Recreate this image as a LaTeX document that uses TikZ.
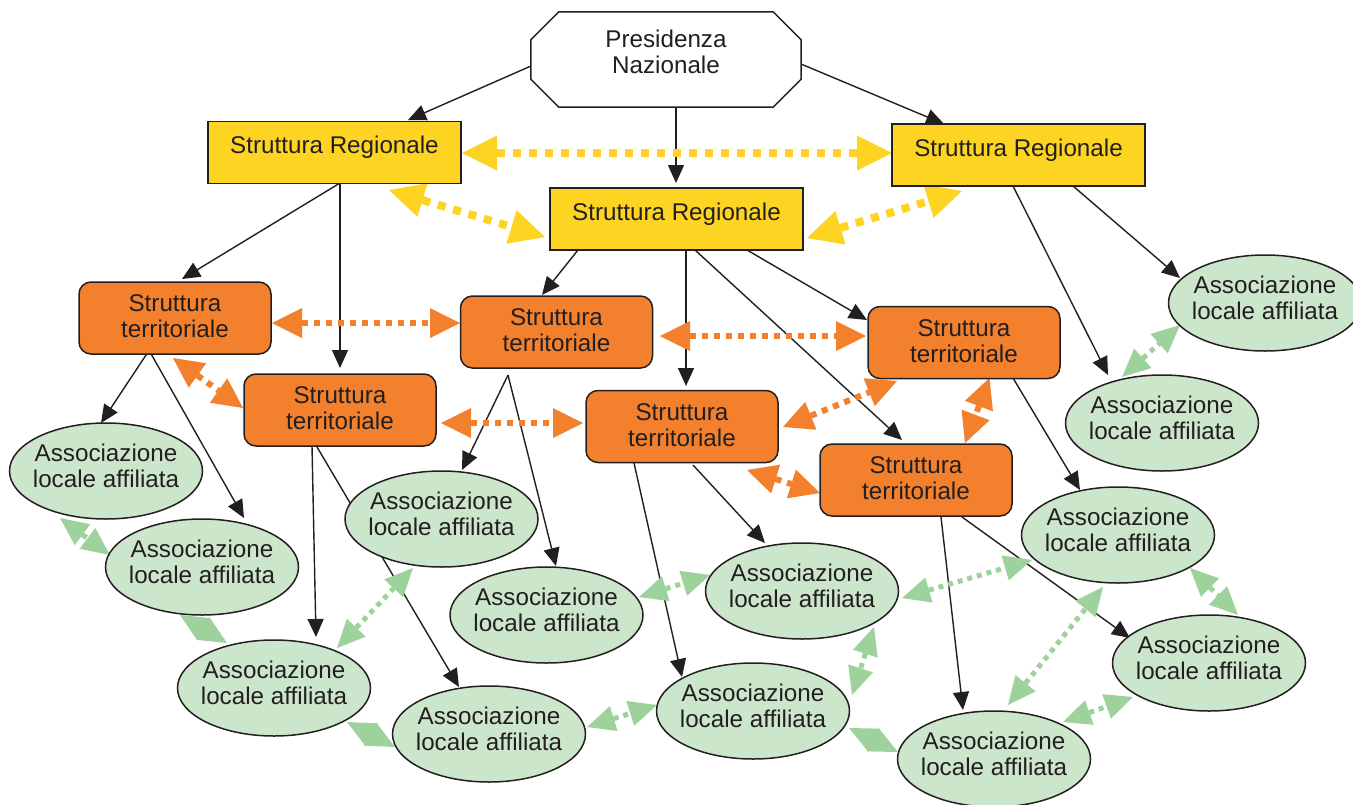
\documentclass[tikz,border=0pt]{standalone}
\usepackage{fontspec}
\setmainfont{Liberation Sans}
\usetikzlibrary{arrows.meta,shapes.geometric,calc}
\definecolor{ink}{HTML}{231F20}
\definecolor{regY}{HTML}{FDD422}
\definecolor{terO}{HTML}{F3802C}
\definecolor{assG}{HTML}{CCE6CB}
\definecolor{arrG}{HTML}{9DD29C}
\pgfdeclarelayer{bg}
\pgfsetlayers{bg,main}
\newcommand\AssocAt[3]{\node[assoc, label={[name=#1t,yshift=5pt]center:Associazione\\locale affiliata}] (#1) at (#2,#3) {};}
\newcommand\TerrAt[3]{\node[terbox, label={[name=#1t,yshift=1.5pt]center:Struttura\\territoriale}] (#1) at (#2,#3) {};}
\newcommand\RegAt[3]{\node[regbox, label={[name=#1t,yshift=5pt]center:Struttura Regionale}] (#1) at (#2,#3) {};}
\begin{document}
\begin{tikzpicture}[x=1pt,y=-1pt,
  every node/.style={font=\fontsize{24.2}{26}\selectfont, text=ink, align=center, inner sep=0pt},
  regbox/.style={rectangle, draw=ink, line width=1.5pt, fill=regY, minimum width=253pt, minimum height=62pt},
  terbox/.style={rectangle, rounded corners=12pt, draw=ink, line width=1.5pt, fill=terO, minimum width=192pt, minimum height=72pt},
  assoc/.style={ellipse, draw=ink, line width=1.5pt, fill=assG, minimum width=193pt, minimum height=96pt},
  blk/.style={draw=ink, line width=1.4pt, -{Triangle[length=18pt,width=16pt]}},
  yel/.style={draw=regY, line width=8pt, dash pattern=on 8pt off 8pt, {Triangle[length=35pt,width=35pt,line width=0pt]}-{Triangle[length=35pt,width=35pt,line width=0pt]}},
  ora/.style={draw=terO, line width=6pt, dash pattern=on 6pt off 6pt, {Triangle[length=30pt,width=30pt,line width=0pt]}-{Triangle[length=30pt,width=30pt,line width=0pt]}},
  grn/.style={draw=arrG, line width=5pt, dash pattern=on 5pt off 5pt, {Triangle[length=28pt,width=26pt,line width=0pt]}-{Triangle[length=28pt,width=26pt,line width=0pt]}}
]
\useasboundingbox (0,0) rectangle (1353,804);

% top
\node[minimum width=270pt, minimum height=95pt] (O) at (666,59.5) {};
\draw[ink, line width=1.5pt, fill=white]
  ($(O.north west)+(28,0)$) -- ($(O.north east)+(-28,0)$) -- ($(O.north east)+(0,28)$)
  -- ($(O.south east)+(0,-28)$) -- ($(O.south east)+(-28,0)$) -- ($(O.south west)+(28,0)$)
  -- ($(O.south west)+(0,-28)$) -- ($(O.north west)+(0,28)$) -- cycle;
\node (Ot) at ($(O)+(0,-8)$) {Presidenza\\Nazionale};

\RegAt{SL}{334.5}{152.5}
\RegAt{SR}{1018.5}{155}
\RegAt{SC}{676.5}{219}

\TerrAt{T1}{175}{318}
\TerrAt{T2}{556.5}{332}
\TerrAt{T3}{964}{342.5}
\TerrAt{T4}{340}{410}
\TerrAt{T5}{682}{426.5}
\TerrAt{T6}{916}{480}

\AssocAt{E1}{106}{471}
\AssocAt{E2}{202}{567}
\AssocAt{E3}{441.5}{519}
\AssocAt{E4}{546.5}{615}
\AssocAt{E5}{802}{591}
\AssocAt{E6}{274}{688}
\AssocAt{E7}{489}{734}
\AssocAt{E8}{753}{711}
\AssocAt{E9}{994}{759}
\AssocAt{E10}{1209}{663}
\AssocAt{E11}{1118}{535}
\AssocAt{E12}{1162}{423}
\AssocAt{E13}{1265}{303}

\begin{pgfonlayer}{bg}
\fill[white] (0,0) rectangle (1353,804);
% black arrows
\draw[blk] ($(O)+(-135,6.5)$) -- ($(SL)+(73.5,-32.5)$);
\draw[blk] ($(O)+(135,4.5)$) -- ($(SR)+(-74.5,-31)$);
\draw[blk] ($(O)+(10,47.5)$) -- ($(SC)+(-0.5,-36)$);
\draw[blk] ($(SL)+(5.5,30.5)$) -- ($(T1)+(7,-39)$);
\draw[blk] ($(SL)+(5.5,30.5)$) -- ($(T4)+(0,-42)$);
\draw[blk] ($(SC)+(-98.5,31)$) -- ($(T2)+(-14.5,-37)$);
\draw[blk] ($(SC)+(9.5,31)$) -- ($(T5)+(4,-40.5)$);
\draw[blk] ($(SC)+(18.5,31)$) -- ($(T6)+(-14,-40)$);
\draw[blk] ($(SC)+(70.5,31)$) -- ($(T3)+(-97,-22.5)$);
\draw[blk] ($(SR)+(-5.5,31)$) -- ($(E12)+(-54,-48)$);
\draw[blk] ($(SR)+(54.5,31)$) -- ($(E13)+(-85,-25)$);
\draw[blk] ($(T1)+(-27,34)$) -- ($(E1)+(-5,-48)$);
\draw[blk] ($(T1)+(-25,34)$) -- ($(E2)+(42,-49)$);
\draw[blk] ($(T2)+(-48.5,43)$) -- ($(E3)+(20.5,-49)$);
\draw[blk] ($(T2)+(-48.5,43)$) -- ($(E4)+(9.5,-49)$);
\draw[blk] ($(T4)+(-28,36)$) -- ($(E6)+(42,-51)$);
\draw[blk] ($(T4)+(-23,37)$) -- ($(E7)+(-30,-47)$);
\draw[blk] ($(T5)+(-48,36.5)$) -- ($(E8)+(-71,-34)$);
\draw[blk] ($(T5)+(11,38.5)$) -- ($(E5)+(-37,-48)$);
\draw[blk] ($(T6)+(25,37)$) -- ($(E9)+(-31,-49)$);
\draw[blk] ($(T6)+(46,37)$) -- ($(E10)+(-79,-25)$);
\draw[blk] ($(T3)+(49,35.5)$) -- ($(E11)+(-38,-45)$);
% yellow
\draw[yel] ($(SL)+(127.5,0.5)$) -- ($(SR)+(-126.5,-2)$);
\draw[yel] ($(SL)+(54.5,37.5)$) -- ($(SC)+(-131.5,18)$);
\draw[yel] ($(SC)+(130.5,19)$) -- ($(SR)+(-56.5,36)$);
% orange
\draw[ora] ($(T1)+(97,5)$) -- ($(T2)+(-96.5,-9)$);
\draw[ora] ($(T2)+(103.5,4)$) -- ($(T3)+(-98,-6.5)$);
\draw[ora] ($(T1)+(-2,40)$) -- ($(T4)+(-97,-2)$);
\draw[ora] ($(T4)+(101,13)$) -- ($(T5)+(-99,-3.5)$);
\draw[ora] ($(T5)+(101,0.5)$) -- ($(T3)+(-67,38.5)$);
\draw[ora] ($(T3)+(25.5,35.5)$) -- ($(T6)+(49,-37)$);
\draw[ora] ($(T5)+(65,43.5)$) -- ($(T6)+(-96,13)$);
% green
\draw[grn] ($(E1)+(-46,47)$) -- ($(E2)+(-92,-12)$);
\draw[grn] ($(E2)+(-22,48)$) -- ($(E6)+(-47,-45)$);
\draw[grn] ($(E6)+(63,-40)$) -- ($(E3)+(-28.5,49)$);
\draw[grn] ($(E6)+(73,34)$) -- ($(E7)+(-94,13)$);
\draw[grn] ($(E7)+(98,-7)$) -- ($(E8)+(-96,-6)$);
\draw[grn] ($(E4)+(92.5,-18)$) -- ($(E5)+(-92,-16)$);
\draw[grn] ($(E5)+(72,36)$) -- ($(E8)+(99,-16)$);
\draw[grn] ($(E8)+(96,17)$) -- ($(E9)+(-96,-7)$);
\draw[grn] ($(E5)+(100,7)$) -- ($(E11)+(-86,25)$);
\draw[grn] ($(E9)+(14,-54)$) -- ($(E11)+(-15,52)$);
\draw[grn] ($(E9)+(69,-37)$) -- ($(E10)+(-76,34)$);
\draw[grn] ($(E11)+(72,33)$) -- ($(E10)+(29,-48)$);
\draw[grn] ($(E12)+(-40,-46)$) -- ($(E13)+(-85,22)$);
\end{pgfonlayer}
\end{tikzpicture}
\end{document}
